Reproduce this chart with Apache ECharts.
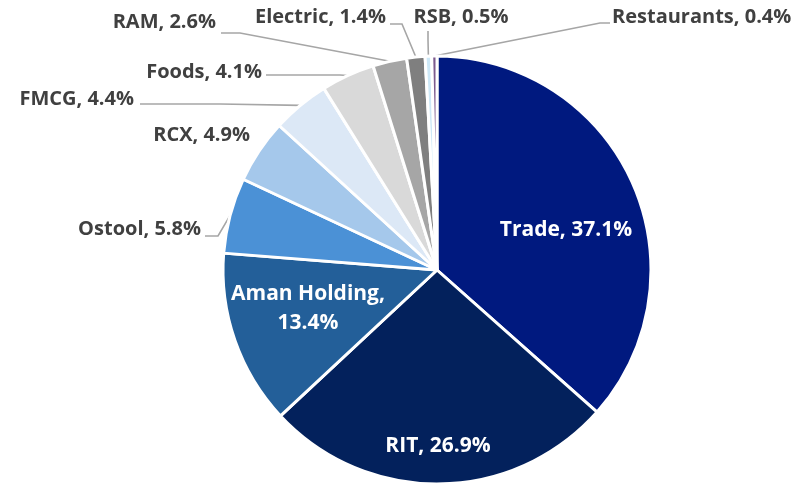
<!DOCTYPE html>
<html>
<head>
<meta charset="utf-8">
<script src="https://cdn.jsdelivr.net/npm/echarts@6/dist/echarts.min.js"></script>
<style>
  html, body { margin: 0; padding: 0; background: #fff; }
  #segment-chart { width: 795px; height: 485px; }
</style>
</head>
<body>
<div id="segment-chart"></div>
<script>
// revenue share by segment, % (as printed on the slices)
const segments = ['Trade', 'RIT', 'Aman Holding', 'Ostool', 'RCX', 'FMCG', 'Foods', 'RAM', 'Electric', 'RSB', 'Restaurants'];
const shares = [37.1, 26.9, 13.4, 5.8, 4.9, 4.4, 4.1, 2.6, 1.4, 0.5, 0.4];

const sliceColors = ['#00197f', '#03215c', '#235f99', '#4b91d6', '#a5c8eb', '#dce8f6',
  '#d9d9d9', '#a6a6a6', '#7f7f7f', '#cde8f7', '#7c5b8e'];
const insideCount = 3;

// where each label sits, like the excel layout
const labelSpots = [
  { x: 566, y: 230, align: 'center' },
  { x: 438, y: 446, align: 'center' },
  { x: 308, y: 309, align: 'center' },
  { x: 201, y: 229, align: 'right', bend: [218, 236], end: [205, 236] },
  { x: 250, y: 135, align: 'right' },
  { x: 134, y: 99, align: 'right', bend: [220, 104], end: [140, 104] },
  { x: 262, y: 72, align: 'right', bend: [340, 75], end: [266, 75] },
  { x: 216, y: 22, align: 'right', bend: [240, 33], end: [221, 33] },
  { x: 386, y: 17, align: 'right', bend: [402, 24], end: [390, 24] },
  { x: 461, y: 17, align: 'center', bend: [428, 40], end: [428, 31] },
  { x: 612, y: 17, align: 'left', bend: [600, 23], end: [610, 23] }
];

const chart = echarts.init(document.getElementById('segment-chart'));

chart.setOption({
  animation: false,
  textStyle: { fontFamily: 'Open Sans' },
  series: [
    {
      type: 'pie',
      center: [437, 270],
      radius: 214,
      startAngle: 90,
      clockwise: true,
      avoidLabelOverlap: false,
      itemStyle: { borderColor: '#fff', borderWidth: 3 },
      label: {
        show: true,
        position: 'outside',
        color: '#404040',
        fontFamily: 'Open Sans',
        fontSize: 20,
        fontWeight: 'bold',
        lineHeight: 28,
        formatter: function (p) {
          const sep = p.name === 'Aman Holding' ? ',\n' : ', ';
          return p.name + sep + p.value.toFixed(1) + '%';
        }
      },
      labelLine: {
        show: true,
        length: 10,
        length2: 10,
        lineStyle: { color: '#a6a6a6', width: 1.6 }
      },
      labelLayout: function (params) {
        const s = labelSpots[params.dataIndex];
        const out = { x: s.x, y: s.y, align: s.align, verticalAlign: 'middle' };
        if (s.bend && params.labelLinePoints) {
          out.labelLinePoints = [params.labelLinePoints[0], s.bend, s.end];
        }
        return out;
      },
      data: segments.map(function (name, i) {
        const item = { name: name, value: shares[i], itemStyle: { color: sliceColors[i] } };
        if (i < insideCount) {
          item.label = { position: 'inside', color: '#fff', fontSize: 21, lineHeight: 29 };
          item.labelLine = { show: false };
        }
        if (name === 'RCX') {
          item.labelLine = { show: false };
        }
        return item;
      })
    }
  ]
});
</script>
</body>
</html>
